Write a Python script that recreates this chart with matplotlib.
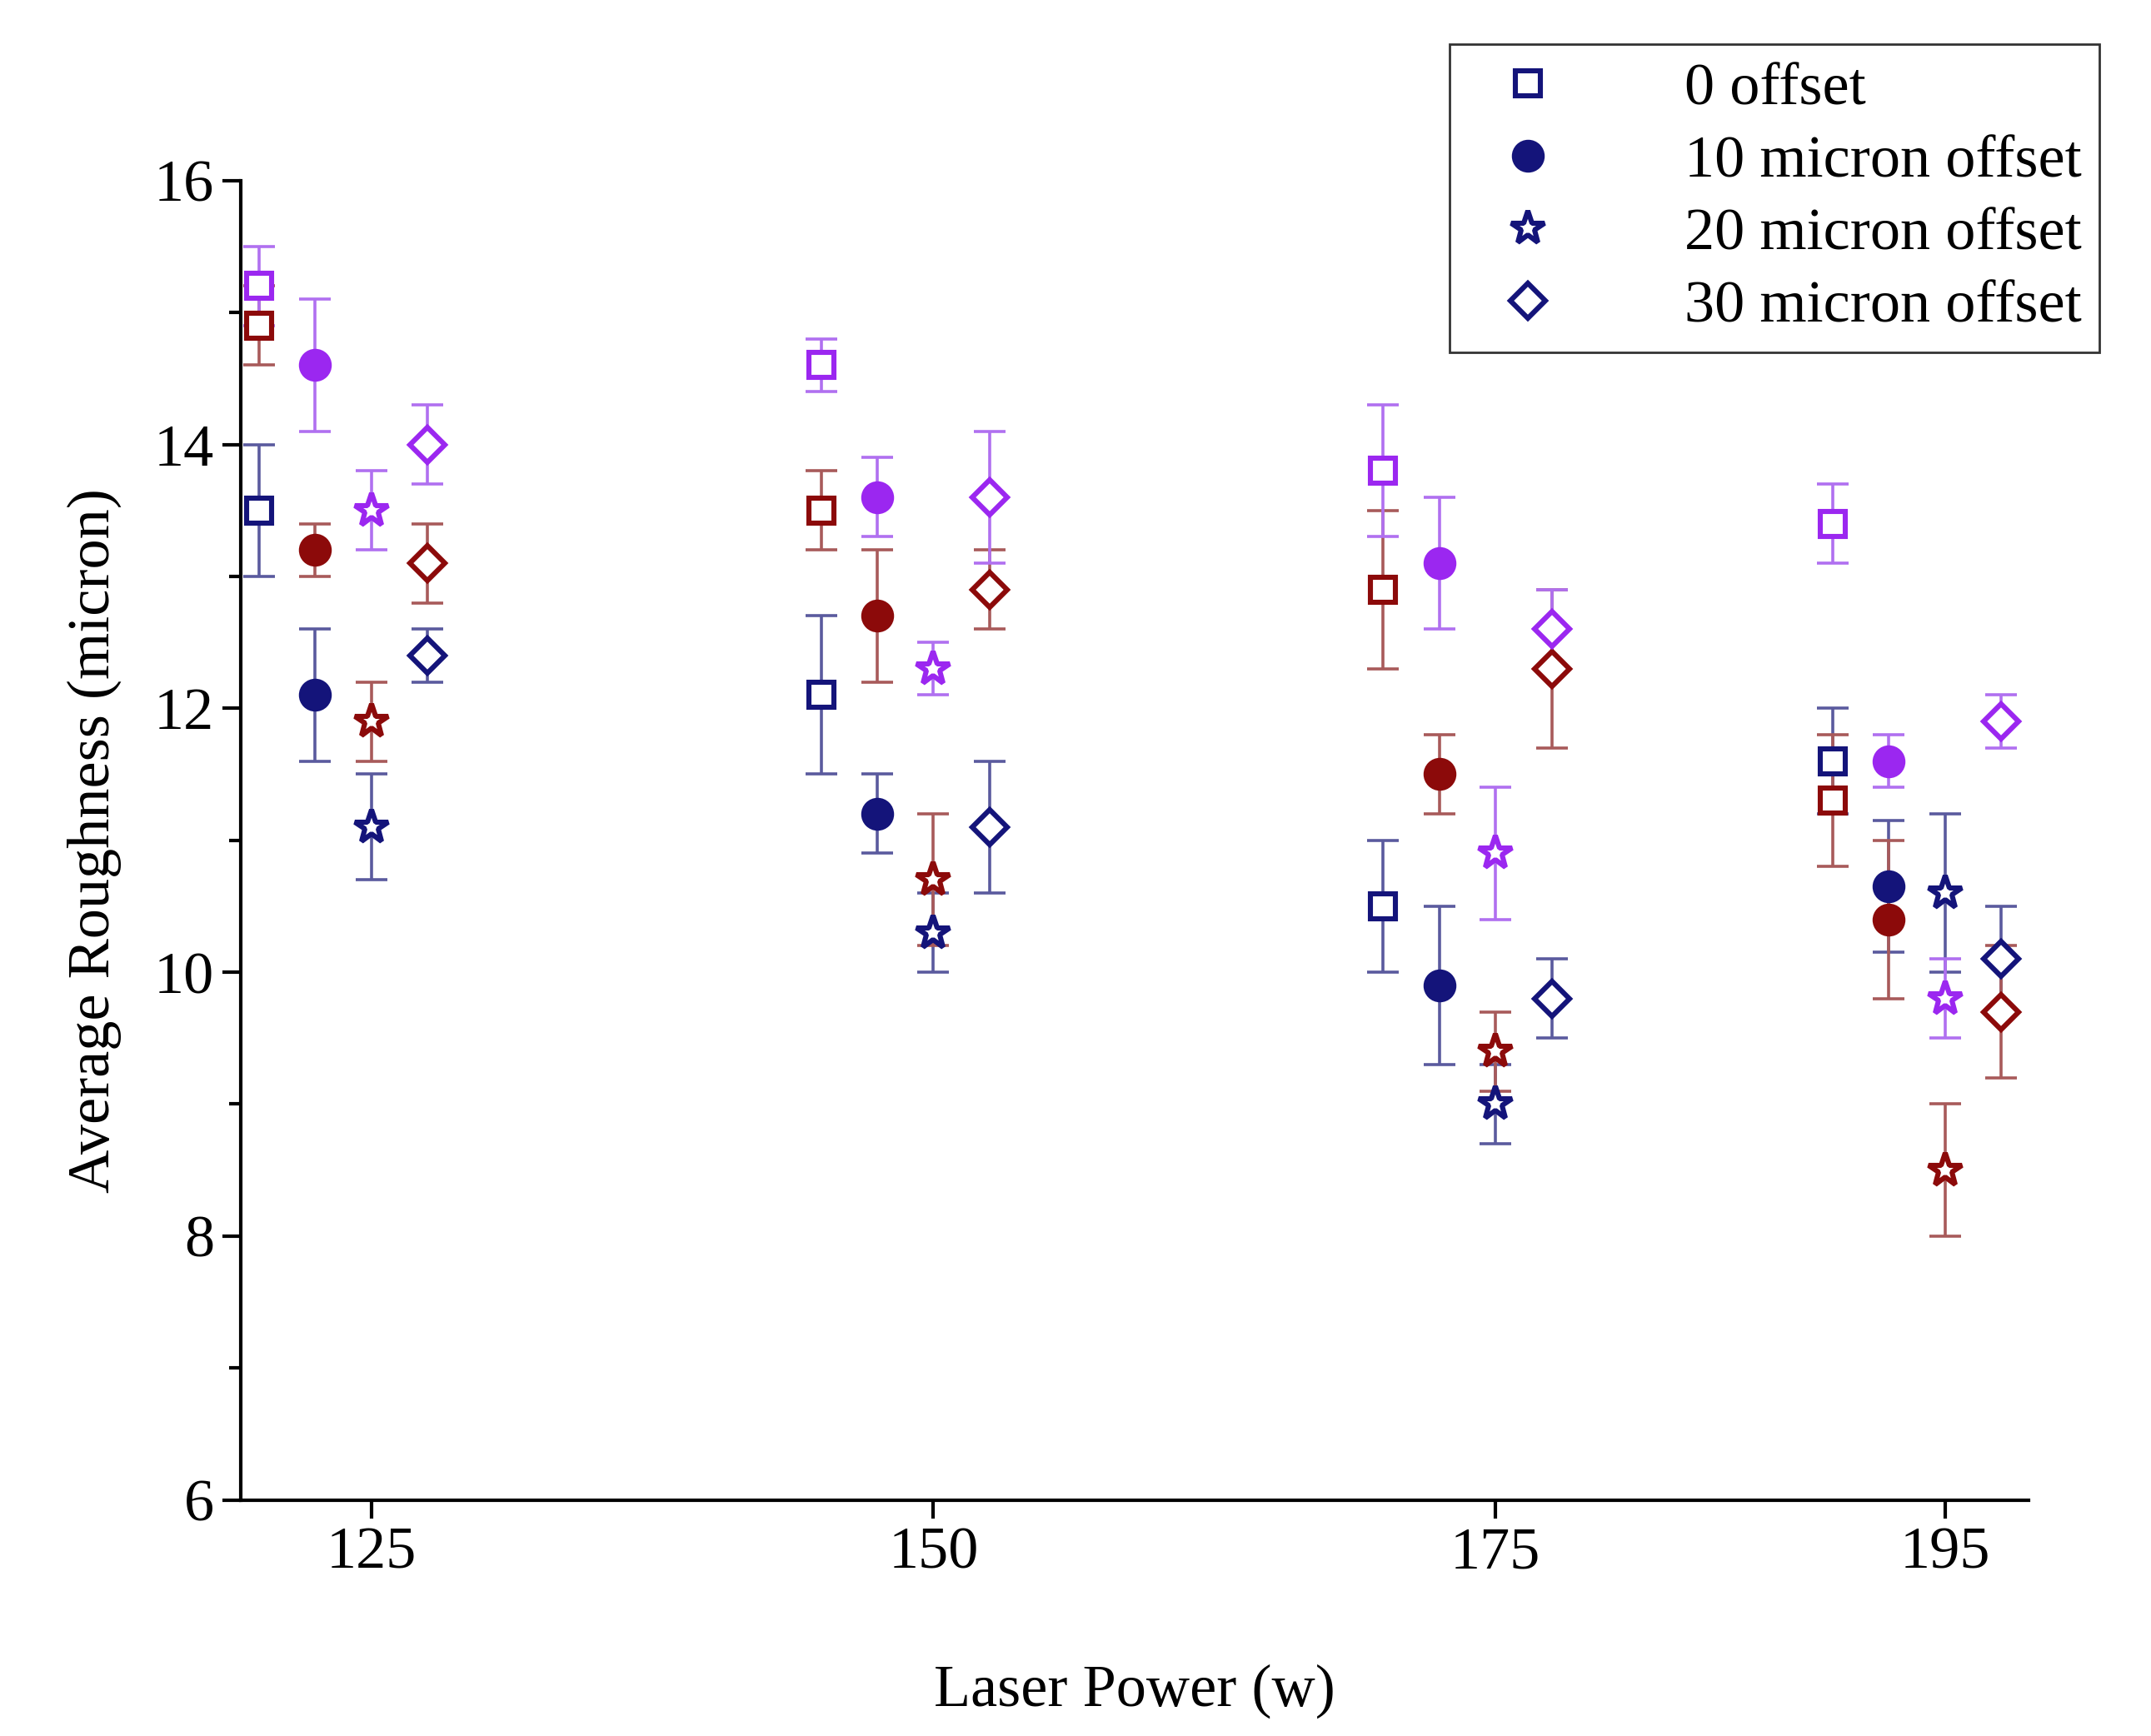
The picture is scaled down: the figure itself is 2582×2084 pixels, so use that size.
import numpy as np
import matplotlib.pyplot as plt

# %% Data
powers = np.array([125, 150, 175, 195])
x_shift = {'sq': -5.0, 'ci': -2.5, 'st': 0.0, 'di': 2.5}

# values per marker type: rows = navy, dark red, purple groups
sq_val = [[13.5, 12.1, 10.5, 11.6], [14.9, 13.5, 12.9, 11.3], [15.2, 14.6, 13.8, 13.4]]
sq_err = [[0.5, 0.6, 0.5, 0.4], [0.3, 0.3, 0.6, 0.5], [0.3, 0.2, 0.5, 0.3]]
ci_val = [[12.1, 11.2, 9.9, 10.65], [13.2, 12.7, 11.5, 10.4], [14.6, 13.6, 13.1, 11.6]]
ci_err = [[0.5, 0.3, 0.6, 0.5], [0.2, 0.5, 0.3, 0.6], [0.5, 0.3, 0.5, 0.2]]
st_val = [[11.1, 10.3, 9.0, 10.6], [11.9, 10.7, 9.4, 8.5], [13.5, 12.3, 10.9, 9.8]]
st_err = [[0.4, 0.3, 0.3, 0.6], [0.3, 0.5, 0.3, 0.5], [0.3, 0.2, 0.5, 0.3]]
di_val = [[12.4, 11.1, 9.8, 10.1], [13.1, 12.9, 12.3, 9.7], [14.0, 13.6, 12.6, 11.9]]
di_err = [[0.2, 0.5, 0.3, 0.4], [0.3, 0.3, 0.6, 0.5], [0.3, 0.5, 0.3, 0.2]]

labels = ['0 offset', '10 micron offset', '20 micron offset', '30 micron offset']
colors = ['#14147a', '#8c0a0a', '#9b27f0']
err_colors = ['#5a5a9e', '#a85a5a', '#b070f0']

plt.rcParams['font.family'] = 'Liberation Serif'
fig = plt.figure(figsize=(12.91, 10.42), dpi=200)
ax = fig.add_axes([0.112, 0.136, 0.831, 0.76])

series = [('sq', 's', sq_val, sq_err, True, 11),
          ('ci', 'o', ci_val, ci_err, False, 12),
          ('st', '*', st_val, st_err, True, 15),
          ('di', 'D', di_val, di_err, True, 10.5)]

handles = []
for key, mk, vals, errs, hollow, ms in series:
    for g in range(3):
        x = powers + x_shift[key]
        ax.errorbar(x, vals[g], yerr=errs[g], fmt='none', ecolor=err_colors[g],
                    elinewidth=1.3, capsize=7, capthick=1.3, zorder=2)
        face = 'white' if hollow else colors[g]
        h, = ax.plot(x, vals[g], mk, ms=ms, mfc=face, mec=colors[g], mew=2.2, zorder=3)
        if g == 0:
            handles.append(h)

ax.set_xlim(119.2, 198.7)
ax.set_ylim(6, 16)
ax.set_xticks(powers)
ax.set_yticks(np.arange(6, 17, 2))
ax.set_yticks(np.arange(7, 16, 2), minor=True)
ax.tick_params(axis='both', labelsize=26, width=1.5, length=8, direction='out')
ax.tick_params(which='minor', width=1.5, length=5)
ax.spines['top'].set_visible(False)
ax.spines['right'].set_visible(False)
ax.spines['left'].set_linewidth(1.5)
ax.spines['bottom'].set_linewidth(1.5)
ax.set_xlabel('Laser Power (w)', fontsize=26, labelpad=36)
ax.set_ylabel('Average Roughness (micron)', fontsize=26, labelpad=14)

fig.legend(handles, labels, loc='upper right', bbox_to_anchor=(0.99, 0.992),
           fontsize=26, frameon=True, fancybox=False, edgecolor='black',
           handletextpad=1.6, borderpad=0.3, labelspacing=0.3)

fig.savefig('out.png', dpi=200)
